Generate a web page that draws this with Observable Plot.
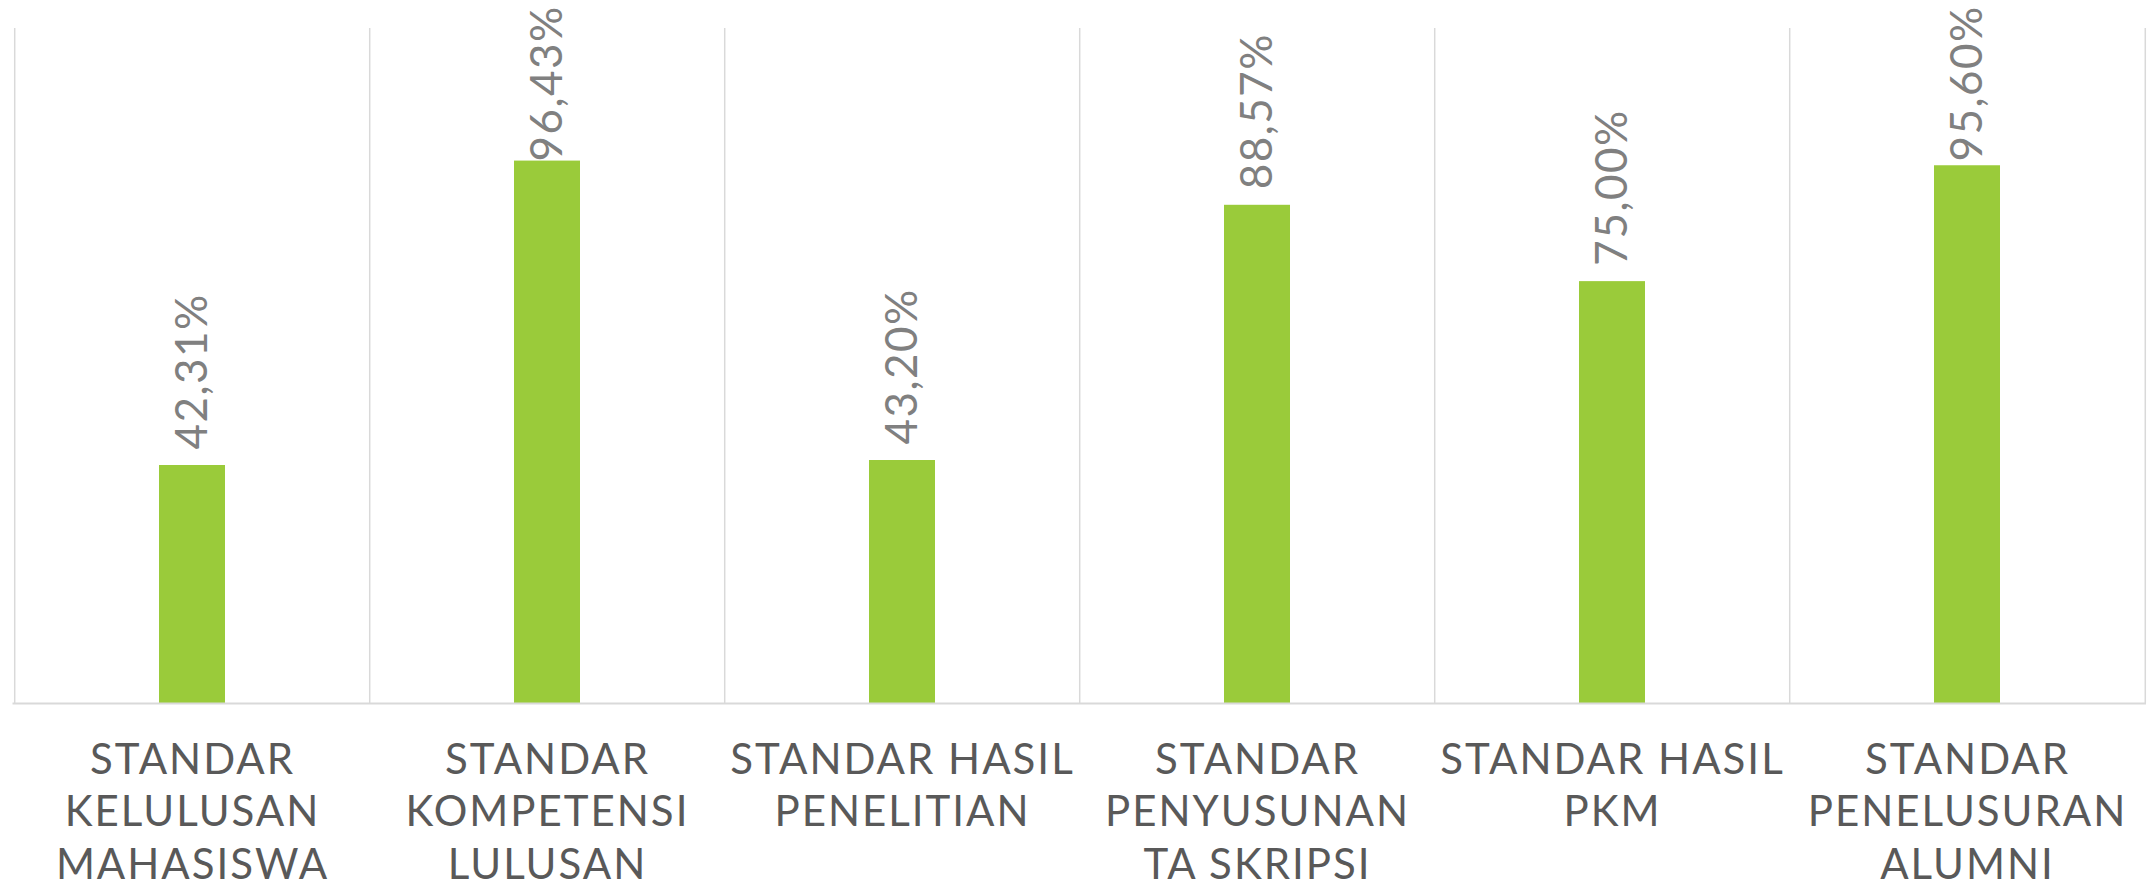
<!DOCTYPE html>
<html>
<head>
<meta charset="utf-8">
<script src="https://cdn.jsdelivr.net/npm/d3@7"></script>
<script src="https://cdn.jsdelivr.net/npm/@observablehq/plot@0.6"></script>
<style>
  html, body { margin: 0; padding: 0; background: #ffffff; }
  #chart svg { display: block; }
</style>
</head>
<body>
<div id="chart"></div>
<script>
// ---- data ----
const categories = [
  "Standar Kelulusan Mahasiswa",
  "Standar Kompetensi Lulusan",
  "Standar Hasil Penelitian",
  "Standar Penyusunan TA Skripsi",
  "Standar Hasil PKM",
  "Standar Penelusuran Alumni"
];
const tickLabels = [
  "STANDAR\nKELULUSAN\nMAHASISWA",
  "STANDAR\nKOMPETENSI\nLULUSAN",
  "STANDAR HASIL\nPENELITIAN",
  "STANDAR\nPENYUSUNAN\nTA SKRIPSI",
  "STANDAR HASIL\nPKM",
  "STANDAR\nPENELUSURAN\nALUMNI"
];
const values = [0.4231, 0.9643, 0.4320, 0.8857, 0.7500, 0.9560];
const valueLabels = ["42,31%", "96,43%", "43,20%", "88,57%", "75,00%", "95,60%"];

// ---- layout ----
const W = 2154, H = 881;
const ML = 12.5, MR = 8, MT = 28, MB = 178;
const step = (W - ML - MR) / categories.length;
const yMax = 1.2;
const pxPerUnit = (H - MT - MB) / yMax;
const labelGap = 16 / pxPerUnit;                 // gap between bar top and label
const labelCap = yMax - (161 - MT) / pxPerUnit;  // keep long labels inside the top edge

const data = categories.map((c, i) => ({cat: c, value: values[i], label: valueLabels[i]}));

const chart = Plot.plot({
  width: W,
  height: H,
  marginLeft: ML,
  marginRight: MR,
  marginTop: MT,
  marginBottom: MB,
  style: {fontFamily: "Lato, 'Noto Sans', sans-serif", background: "#ffffff", overflow: "visible"},
  x: {domain: categories, paddingInner: 0.814, paddingOuter: 0.407, label: null},
  y: {domain: [0, yMax], axis: null},
  marks: [
    Plot.ruleX(categories, {x: d => d, dx: -step / 2, stroke: "#d9d9d9", strokeWidth: 1.5}),
    Plot.ruleX(categories.slice(-1), {x: d => d, dx: step / 2, stroke: "#d9d9d9", strokeWidth: 1.5}),
    Plot.barY(data, {x: "cat", y: "value", fill: "#9acb3a"}),
    Plot.ruleY([0], {stroke: "#d9d9d9", strokeWidth: 2}),
    Plot.text(data, {
      x: "cat",
      y: d => Math.min(d.value + labelGap, labelCap),
      text: "label",
      rotate: -90,
      textAnchor: "start",
      fontSize: 44,
      fill: "#808080",
      fontFamily: "Lato, sans-serif",
      className: "vlabel"
    }),
    Plot.axisX({
      tickSize: 0,
      tickPadding: 33,
      fontSize: 42,
      lineHeight: 1.25,
      fill: "#595959",
      tickFormat: (d) => tickLabels[categories.indexOf(d)],
      label: null
    })
  ]
});
document.getElementById("chart").appendChild(chart);
chart.querySelectorAll('[aria-label="x-axis tick label"] text').forEach(t => t.style.letterSpacing = "2px");
chart.querySelectorAll('[aria-label="text"] text').forEach(t => t.style.letterSpacing = "1.5px");
</script>
</body>
</html>
